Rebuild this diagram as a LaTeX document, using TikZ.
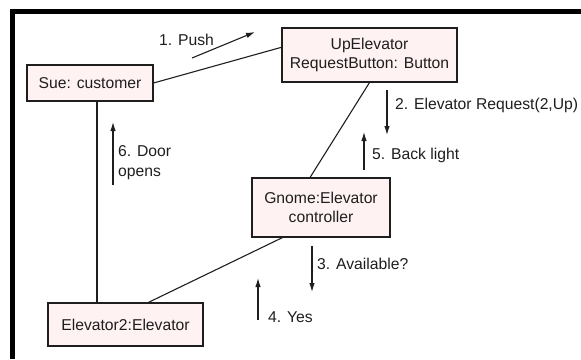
\documentclass[tikz,border=0pt]{standalone}
\usepackage{fontspec}
\setmainfont{Liberation Sans}
\usetikzlibrary{arrows.meta}
\definecolor{objfill}{RGB}{255,242,242}
\definecolor{ink}{RGB}{30,30,30}
\tikzset{
  obj/.style={draw=ink, line width=1.1pt, fill=objfill, inner sep=0pt,
    align=center, font=\fontsize{15.7}{19}\selectfont, text=ink},
  link/.style={draw=ink, line width=1.1pt},
  msg/.style={draw=ink, line width=1.1pt, -{Latex[length=9pt,width=5.5pt]}},
  msglabel/.style={anchor=west, inner sep=0pt, align=left,
    font=\fontsize{15.7}{20}\selectfont, text=ink}
}
\begin{document}
\begin{tikzpicture}[x=1pt, y=-1pt]
\useasboundingbox (0,0) rectangle (581,359);

% frame on the top and left edges
\draw[line width=5pt, line join=miter] (12.5,359) -- (12.5,11.5) -- (581,11.5);

% objects
\node[obj, minimum width=126pt, minimum height=36pt] (sue) at (90,83) {Sue: customer};
\node[obj, minimum width=175pt, minimum height=54pt] (btn) at (369.5,55) {UpElevator\\RequestButton: Button};
\node[obj, minimum width=138pt, minimum height=59pt] (ctrl) at (321,207.5) {Gnome:Elevator\\controller};
\node[obj, minimum width=155pt, minimum height=43pt] (elev) at (125.5,324.5) {Elevator2:Elevator};

% links
\draw[link] (sue.east) -- (btn.175);
\draw[link] (btn.south) -- (ctrl.110.5);
\draw[link] (ctrl.218) -- (elev.44);
\draw[link] ([xshift=7pt]sue.south) -- ([xshift=7pt]sue.south |- elev.north);

% messages
\coordinate (m1a) at (192,58);  \coordinate (m1b) at (255,32);
\coordinate (m2a) at (387,90);  \coordinate (m2b) at (387,135);
\coordinate (m5a) at (364,170); \coordinate (m5b) at (364,132);
\coordinate (m6a) at (113,185); \coordinate (m6b) at (113,122);
\coordinate (m3a) at (312,246); \coordinate (m3b) at (312,292);
\coordinate (m4a) at (258,320); \coordinate (m4b) at (258,278);

\draw[msg] (m1a) -- (m1b);
\draw[msg] (m2a) -- (m2b);
\draw[msg] (m5a) -- (m5b);
\draw[msg] (m6a) -- (m6b);
\draw[msg] (m3a) -- (m3b);
\draw[msg] (m4a) -- (m4b);

\node[msglabel] (l1) at (159,40) {1. Push};
\node[msglabel] (l2) at (395,105) {2. Elevator Request(2,Up)};
\node[msglabel] (l5) at (372,155) {5. Back light};
\node[msglabel] (l6) at (118,163) {6. Door\\opens};
\node[msglabel] (l3) at (317,264) {3. Available?};
\node[msglabel] (l4) at (268,317) {4. Yes};
\end{tikzpicture}
\end{document}
